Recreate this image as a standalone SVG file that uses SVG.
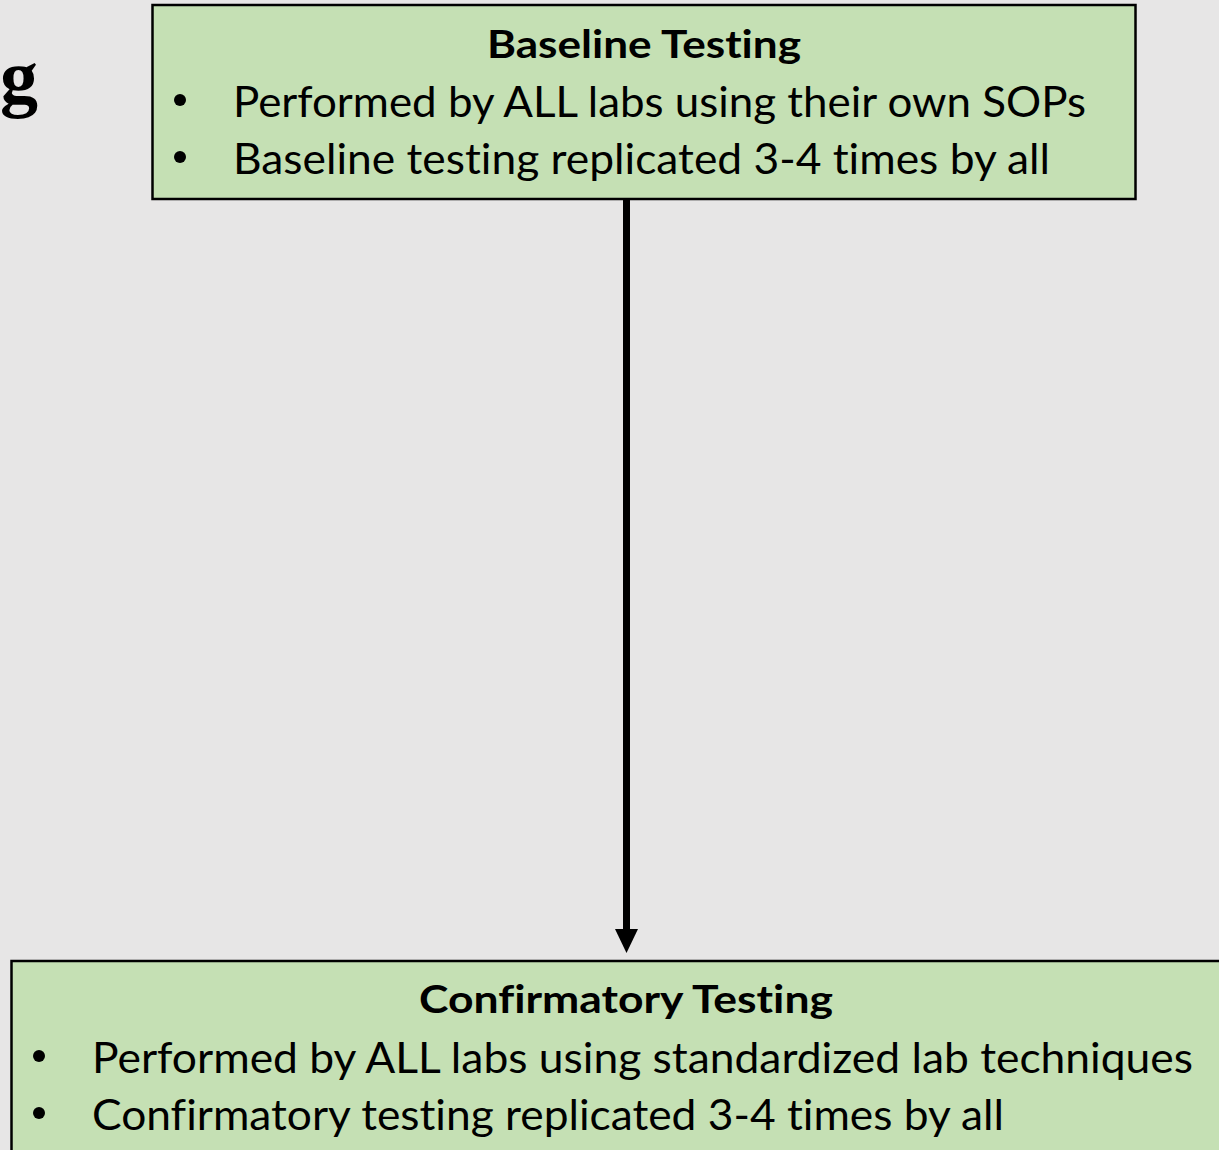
<svg xmlns="http://www.w3.org/2000/svg" width="1219" height="1150" viewBox="0 0 1219 1150">
  <style>
    .box { fill: #C5E0B4; stroke: #000000; stroke-width: 2.5; }
    .title { font-family: Lato, "Open Sans", "Liberation Sans", sans-serif; font-weight: bold; font-size: 39px; fill: #000; font-variant-ligatures: none; }
    .item { font-family: Lato, "Open Sans", "Liberation Sans", sans-serif; font-size: 42px; fill: #000; font-variant-ligatures: none; }
    .bul { fill: #000; }
    .edge { stroke: #000; stroke-width: 7; fill: none; }
  </style>
  <rect x="0" y="0" width="1219" height="1150" fill="#E7E6E6"/>
  <text x="38" y="103" text-anchor="end" font-family="'Liberation Serif', serif" font-weight="bold" font-size="76" fill="#000">g</text>

  <g id="connectors">
    <line class="edge" x1="626.5" y1="199" x2="626.5" y2="930" />
    <path d="M615,929 L638,929 L626.5,953 Z" fill="#000"/>
  </g>

  <g id="baseline-testing">
    <rect class="box" x="152.5" y="5" width="983" height="194"/>
    <text class="title" x="487" y="58" textLength="314" lengthAdjust="spacingAndGlyphs">Baseline Testing</text>
    <circle class="bul" cx="180" cy="100" r="6"/>
    <text class="item" x="233" y="117" textLength="853" lengthAdjust="spacingAndGlyphs">Performed by ALL labs using their own SOPs</text>
    <circle class="bul" cx="180" cy="157" r="6"/>
    <text class="item" x="233" y="174" textLength="817" lengthAdjust="spacingAndGlyphs">Baseline testing replicated 3-4 times by all</text>
  </g>

  <g id="confirmatory-testing">
    <rect class="box" x="11.5" y="961" width="1230" height="220"/>
    <text class="title" x="419" y="1013" textLength="414" lengthAdjust="spacingAndGlyphs">Confirmatory Testing</text>
    <circle class="bul" cx="39" cy="1056" r="6"/>
    <text class="item" x="92" y="1073" textLength="1101" lengthAdjust="spacingAndGlyphs">Performed by ALL labs using standardized lab techniques</text>
    <circle class="bul" cx="39" cy="1113" r="6"/>
    <text class="item" x="92" y="1130" textLength="912" lengthAdjust="spacingAndGlyphs">Confirmatory testing replicated 3-4 times by all</text>
  </g>
</svg>
